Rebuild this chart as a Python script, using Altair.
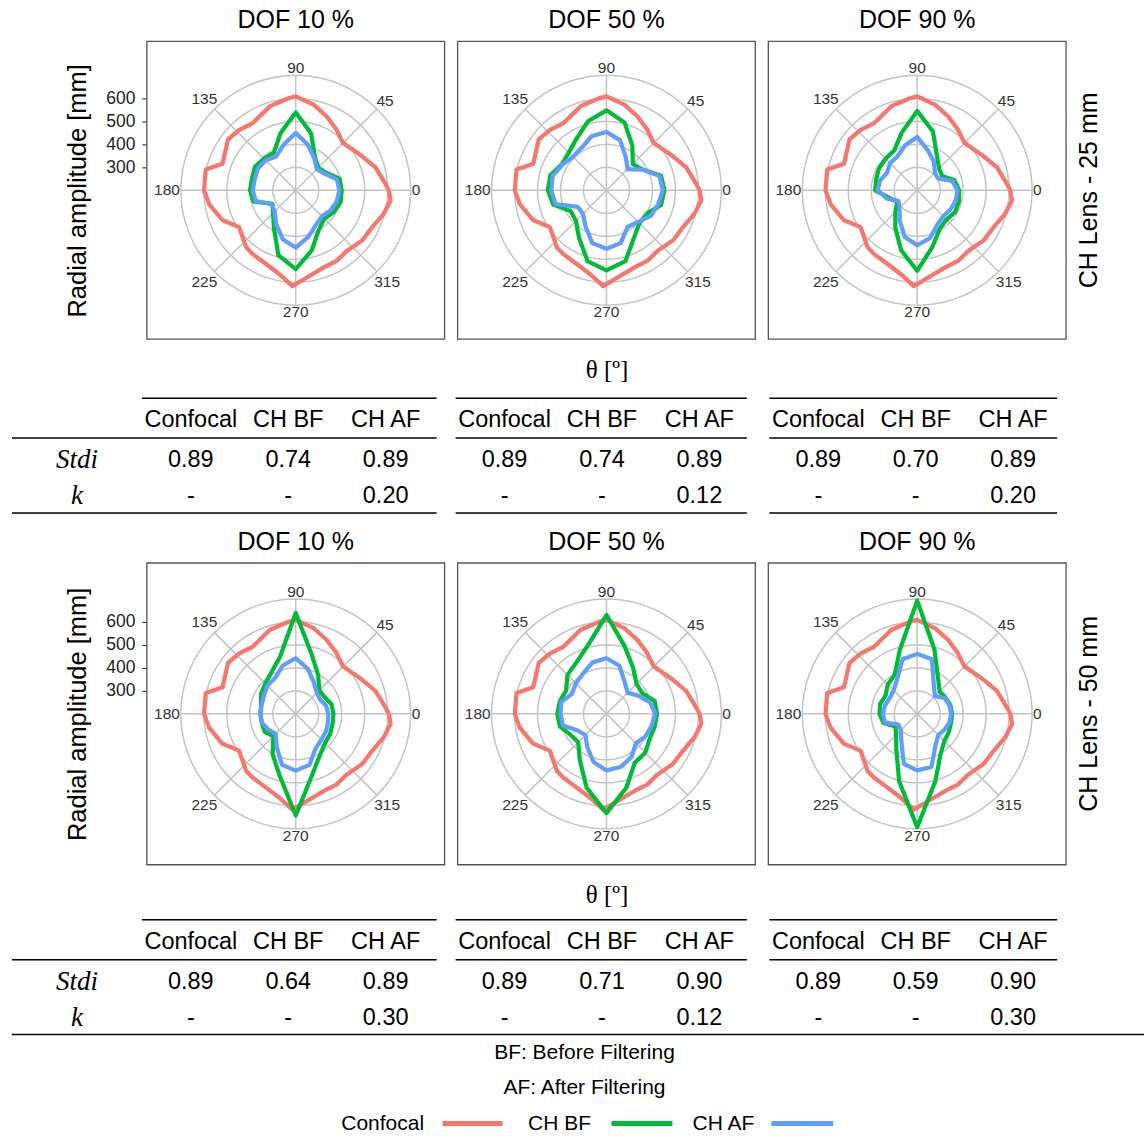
import altair as alt
import pandas as pd

# ---------------- data ----------------
ANGLES = list(range(0, 360, 15))
SPOKE_ANGLES = [0, 45, 90, 135, 180, 225, 270, 315]
GRID_VALUES = [300, 400, 500, 600, 700]
RADIAL_TICKS = [300, 400, 500, 600]
SERIES = ["Confocal", "CH BF", "CH AF"]
COLORS = ["#F8766D", "#00BA38", "#619CFF"]
DOF_TITLES = ["DOF 10 %", "DOF 50 %", "DOF 90 %"]
LENS_TITLES = ["CH Lens - 25 mm", "CH Lens - 50 mm"]
THETA_TITLE = "θ [º]"
R_TITLE = "Radial amplitude [mm]"
NOTES = ["BF: Before Filtering", "AF: After Filtering"]

CONFOCAL_ANGLE = [0, 4, 16, 29, 45, 56, 67, 78, 90, 94, 107, 123, 133, 143, 160, 167,
                  180, 189, 202, 213, 229, 236, 248, 259, 268, 277, 290, 300, 310, 323,
                  334, 345, 354]
CONFOCAL_R = [605, 592, 561, 520, 491, 518, 548, 580, 609, 603, 583, 547, 560, 569, 539, 602,
              599, 582, 545, 494, 529, 535, 546, 572, 617, 583, 557, 555, 545, 562,
              569, 596, 615]

BF_25_DOF10 = [400, 397, 353, 339, 367, 457, 539, 457, 390, 395, 405, 397,
               399, 390, 317, 340, 390, 492, 543, 470, 400, 375, 390, 402]
AF_25_DOF10 = [390, 385, 345, 330, 361, 405, 449, 405, 370, 385, 390, 385,
               387, 380, 320, 330, 370, 420, 449, 410, 375, 360, 375, 385]
BF_25_DOF50 = [452, 446, 381, 362, 425, 505, 548, 511, 460, 432, 425, 453,
               455, 440, 380, 388, 439, 519, 548, 519, 439, 403, 403, 446]
AF_25_DOF50 = [445, 439, 381, 330, 368, 426, 454, 445, 415, 406, 422, 442,
               440, 430, 344, 345, 382, 438, 454, 438, 384, 394, 423, 433]
BF_25_DOF90 = [383, 368, 325, 335, 372, 465, 545, 460, 400, 394, 392, 385,
               383, 325, 300, 335, 390, 470, 550, 455, 395, 380, 390, 388]
AF_25_DOF90 = [375, 358, 304, 309, 345, 380, 432, 403, 371, 367, 352, 367,
               372, 338, 294, 309, 352, 410, 439, 415, 374, 360, 367, 374]

BF_50_DOF10 = [364, 361, 345, 345, 395, 468, 639, 460, 410, 387, 374, 356,
               354, 353, 356, 337, 402, 475, 642, 475, 409, 380, 373, 366]
AF_50_DOF10 = [342, 337, 323, 330, 358, 403, 442, 418, 380, 374, 360, 353,
               354, 352, 337, 323, 366, 430, 447, 430, 373, 358, 352, 345]
BF_50_DOF50 = [420, 417, 380, 385, 432, 505, 630, 510, 460, 440, 403, 410,
               414, 410, 381, 374, 432, 533, 632, 533, 446, 439, 417, 417]
AF_50_DOF50 = [413, 396, 359, 330, 359, 417, 442, 432, 403, 388, 374, 403,
               400, 396, 345, 330, 367, 417, 446, 439, 417, 381, 396, 403]
BF_50_DOF90 = [352, 349, 342, 338, 381, 490, 693, 490, 396, 381, 359, 367,
               364, 352, 309, 330, 381, 504, 693, 504, 403, 367, 359, 352]
AF_50_DOF90 = [348, 345, 338, 309, 345, 446, 461, 446, 374, 345, 338, 345,
               349, 345, 294, 301, 338, 425, 446, 439, 359, 330, 338, 345]

STDI_25 = [[0.89, 0.74, 0.89], [0.89, 0.74, 0.89], [0.89, 0.70, 0.89]]
K_25 = [[None, None, 0.20], [None, None, 0.12], [None, None, 0.20]]
STDI_50 = [[0.89, 0.64, 0.89], [0.89, 0.71, 0.90], [0.89, 0.59, 0.90]]
K_50 = [[None, None, 0.30], [None, None, 0.12], [None, None, 0.30]]

# ---------------- layout ----------------
FIG_W = 1145
PANEL_W = 298
ROW1_H = 298
ROW2_H = 302
TOP_H = 41
STRIP_B_H = 224
STRIP_C_H = 273
PANEL_LEFT = 147        # px, left edge of the first panel
PANEL_PITCH = 311       # px, distance between panel centres
CENTER = 200            # radial value at the pole
PXMM = 0.23             # px per radial unit
FONT = "Liberation Sans"
SERIF = "Liberation Serif"
GRID_COLOR = "#C4C4C4"

color_enc = alt.Color("series:N", scale=alt.Scale(domain=SERIES, range=COLORS), legend=None)


def U(px):
    return px / PXMM


CX = f"({PANEL_LEFT + PANEL_W / 2} + {PANEL_PITCH}*datum.j)/{PXMM}"


def polar_df(pairs):
    recs = []
    for j, (bf, af) in enumerate(pairs):
        for s, angs, vals in [("Confocal", CONFOCAL_ANGLE, CONFOCAL_R),
                              ("CH BF", ANGLES, bf), ("CH AF", ANGLES, af)]:
            pts = list(zip(angs, vals)) + [(angs[0] + 360, vals[0])]
            for i, (a, v) in enumerate(pts):
                recs.append({"j": j, "series": s, "i": i, "angle": a, "r": v})
    return pd.DataFrame(recs)


def panel_row(pairs, lens, H):
    half = U(H / 2)
    xs = alt.Scale(domain=[0, U(FIG_W)], nice=False, zero=False)
    ys = alt.Scale(domain=[CENTER - half, CENTER + half], nice=False, zero=False)
    yaxis = alt.Axis(values=RADIAL_TICKS, title=R_TITLE, grid=False, domain=False, ticks=True,
                     offset=-PANEL_LEFT, tickSize=5, tickWidth=1.1, tickColor="#333333",
                     labelFontSize=17.5, labelColor="#222222", labelFont=FONT, labelPadding=7,
                     format="d", titleFontSize=25.5, titleFont=FONT, titleFontWeight="normal",
                     titleColor="black", titlePadding=15)
    xaxis = alt.Axis(title=THETA_TITLE, labels=False, ticks=False, domain=False, grid=False,
                     titleX=PANEL_LEFT + PANEL_W / 2 + PANEL_PITCH, titleFont=SERIF,
                     titleFontSize=25, titleFontWeight="normal", titleColor="black",
                     titlePadding=18)

    def X(f):
        return alt.X(f, type="quantitative", scale=xs, axis=xaxis)

    def Y(f):
        return alt.Y(f, type="quantitative", scale=ys, axis=yaxis)

    panels = pd.DataFrame({"j": [0, 1, 2], "title": DOF_TITLES})
    half_w = U(PANEL_W / 2)

    boxes = alt.Chart(panels).transform_calculate(
        cx=CX, x1=f"datum.cx - {half_w}", x2=f"datum.cx + {half_w}",
        y1=f"{CENTER - half}", y2=f"{CENTER + half}",
    ).mark_rect(fill="white", stroke="#555555", strokeWidth=1.3).encode(
        x=X("x1"), x2="x2:Q", y=Y("y1"), y2="y2:Q"
    )

    grid_recs = [{"j": j, "g": g, "a": a} for j in range(3) for g in GRID_VALUES
                 for a in range(0, 361, 3)]
    grid = alt.Chart(pd.DataFrame(grid_recs)).transform_calculate(
        cx=CX,
        gx=f"datum.cx + (datum.g - {CENTER})*cos(datum.a*PI/180)",
        gy=f"{CENTER} + (datum.g - {CENTER})*sin(datum.a*PI/180)",
    ).mark_line(color=GRID_COLOR, strokeWidth=1.5).encode(
        x=X("gx"), y=Y("gy"), detail=["j:N", "g:N"], order=alt.Order("a:Q")
    )

    outer = GRID_VALUES[-1] - CENTER
    spoke_recs = [{"j": j, "a": a} for j in range(3) for a in SPOKE_ANGLES]
    spokes = alt.Chart(pd.DataFrame(spoke_recs)).transform_calculate(
        cx=CX, y0=f"{CENTER}",
        x1=f"datum.cx + {outer}*cos(datum.a*PI/180)",
        y1=f"{CENTER} + {outer}*sin(datum.a*PI/180)",
    ).mark_rule(color=GRID_COLOR, strokeWidth=1.5).encode(
        x=X("cx"), y=Y("y0"), x2="x1:Q", y2="y1:Q"
    )

    lines = alt.Chart(polar_df(pairs)).transform_calculate(
        cx=CX,
        px=f"datum.cx + (datum.r - {CENTER})*cos(datum.angle*PI/180)",
        py=f"{CENTER} + (datum.r - {CENTER})*sin(datum.angle*PI/180)",
    ).mark_line(strokeWidth=4.2, strokeJoin="round", strokeCap="round").encode(
        x=X("px"), y=Y("py"), color=color_enc, detail="j:N", order=alt.Order("i:Q")
    )

    label_recs = [{"j": j, "a": a, "label": str(a)} for j in range(3) for a in SPOKE_ANGLES]
    labels = alt.Chart(pd.DataFrame(label_recs)).transform_calculate(
        cx=CX,
        rr=f"(116 + 4.3*length(datum.label)*abs(cos(datum.a*PI/180)) + 6*abs(sin(datum.a*PI/180)))/{PXMM}",
        lx="datum.cx + datum.rr*cos(datum.a*PI/180)",
        ly=f"{CENTER} + datum.rr*sin(datum.a*PI/180)",
    ).mark_text(fontSize=15.5, color="#333333", font=FONT, baseline="middle").encode(
        x=X("lx"), y=Y("ly"), text="label:N"
    )

    titles = alt.Chart(panels).transform_calculate(
        cx=CX, ty=f"{CENTER + half + U(21)}"
    ).mark_text(fontSize=25, font=FONT, color="black", baseline="middle").encode(
        x=X("cx"), y=Y("ty"), text="title:N"
    )

    lens_df = pd.DataFrame({"text": [lens]})
    lens_lbl = alt.Chart(lens_df).transform_calculate(
        tx=f"{U(PANEL_LEFT + 2 * PANEL_PITCH + PANEL_W + 23)}", ty=f"{CENTER}"
    ).mark_text(fontSize=25, font=FONT, color="black", angle=270, baseline="middle").encode(
        x=X("tx"), y=Y("ty"), text="text:N"
    )

    return alt.layer(boxes, grid, spokes, lines, labels, titles, lens_lbl).properties(
        width=FIG_W, height=H
    )


def spacer(w, h):
    return alt.Chart(pd.DataFrame({"v": [0]})).mark_point(opacity=0, size=1).encode(
        x=alt.value(20), y=alt.value(20)
    ).properties(width=w, height=h)


def table_strip(stdi, kvals, height, dy, full_bottom, footer):
    xs = alt.Scale(domain=[0, FIG_W], nice=False, zero=False)
    ys = alt.Scale(domain=[0, height], nice=False, zero=False, reverse=True)

    def X(f):
        return alt.X(f, type="quantitative", scale=xs, axis=None)

    def Y(f):
        return alt.Y(f, type="quantitative", scale=ys, axis=None)

    recs = []
    for b in range(3):
        for c in range(3):
            recs.append({"b": b, "c": c, "row": 0, "text": SERIES[c]})
            recs.append({"b": b, "c": c, "row": 1, "text": f"{stdi[b][c]:.2f}"})
            k = kvals[b][c]
            recs.append({"b": b, "c": c, "row": 2, "text": "-" if k is None else f"{k:.2f}"})
    row_y = f"(datum.row == 0 ? 81 : datum.row == 1 ? 121 : 157) + {dy}"

    cells = alt.Chart(pd.DataFrame(recs)).transform_calculate(
        tx="191 + 97.5*datum.c + 314*datum.b", ty=row_y
    ).mark_text(fontSize=23.5, font=FONT, color="black", baseline="middle").encode(
        x=X("tx"), y=Y("ty"), text="text:N"
    )

    heads = alt.Chart(pd.DataFrame({"text": ["Stdi", "k"], "row": [1, 2]})).transform_calculate(
        tx="77", ty=row_y
    ).mark_text(fontSize=27, font=SERIF, fontStyle="italic", color="black",
                baseline="middle").encode(x=X("tx"), y=Y("ty"), text="text:N")

    rule_recs = []
    for b in range(3):
        for l in range(3):
            if l == 2 and full_bottom:
                continue
            rule_recs.append({"b": b, "l": l, "full": 0})
    if full_bottom:
        rule_recs.append({"b": 0, "l": 2, "full": 1})
    rules = alt.Chart(pd.DataFrame(rule_recs)).transform_calculate(
        x1="datum.full ? 12 : ((datum.l > 0 && datum.b == 0) ? 12 : 142 + 314*datum.b)",
        x2=f"datum.full ? {FIG_W} : 437 + 310.5*datum.b",
        ry=f"(datum.l == 0 ? 59 : datum.l == 1 ? 99 : 174) + {dy}",
    ).mark_rule(color="black", strokeWidth=1.5).encode(x=X("x1"), x2="x2:Q", y=Y("ry"))

    layers = [rules, cells, heads]

    if footer:
        notes = alt.Chart(pd.DataFrame({"text": NOTES, "n": [0, 1]})).transform_calculate(
            tx="585", ty="188 + 35*datum.n"
        ).mark_text(fontSize=21, font=FONT, color="black", baseline="middle").encode(
            x=X("tx"), y=Y("ty"), text="text:N"
        )
        leg = pd.DataFrame({"series": SERIES, "k": [0, 1, 2]})
        leg_text = alt.Chart(leg).transform_calculate(
            tx="datum.k == 0 ? 383 : datum.k == 1 ? 560 : 724", ty="259"
        ).mark_text(fontSize=21, font=FONT, color="black", baseline="middle").encode(
            x=X("tx"), y=Y("ty"), text="series:N"
        )
        leg_line = alt.Chart(leg).transform_calculate(
            x1="datum.k == 0 ? 443 : datum.k == 1 ? 612 : 772",
            x2="datum.k == 0 ? 503 : datum.k == 1 ? 673 : 834",
            ty="259",
        ).mark_rule(strokeWidth=5).encode(x=X("x1"), x2="x2:Q", y=Y("ty"), color=color_enc)
        layers += [notes, leg_text, leg_line]

    return alt.layer(*layers).properties(width=FIG_W, height=height)


row1 = panel_row([(BF_25_DOF10, AF_25_DOF10), (BF_25_DOF50, AF_25_DOF50),
                  (BF_25_DOF90, AF_25_DOF90)], LENS_TITLES[0], ROW1_H)
row2 = panel_row([(BF_50_DOF10, AF_50_DOF10), (BF_50_DOF50, AF_50_DOF50),
                  (BF_50_DOF90, AF_50_DOF90)], LENS_TITLES[1], ROW2_H)
strip_b = table_strip(STDI_25, K_25, STRIP_B_H, 0, False, False)
strip_c = table_strip(STDI_50, K_50, STRIP_C_H, -4, True, True)

chart = alt.vconcat(
    spacer(FIG_W, TOP_H), row1, strip_b, row2, strip_c, spacing=0, bounds="flush"
).properties(padding=0).configure(font=FONT).configure_view(strokeWidth=0)

chart.save("out.html", embed_options={"renderer": "svg", "actions": False})
